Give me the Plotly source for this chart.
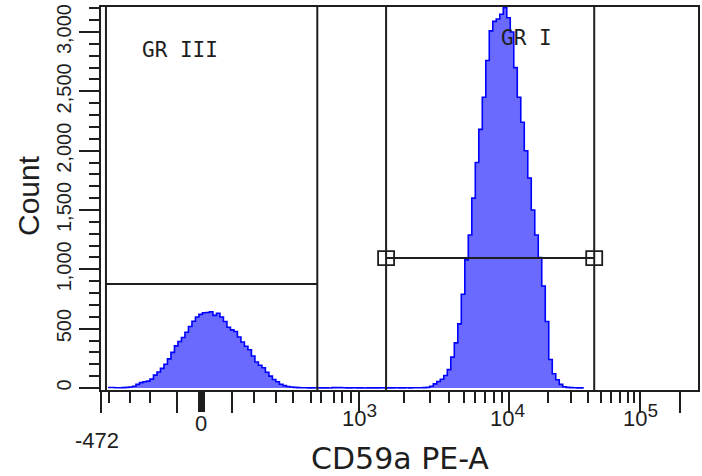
import math
import plotly.graph_objects as go

# ---- Histogram of CD59a PE-A, binned on a 0-1024 display-channel scale ----
BIN_WIDTH = 6          # display channels per histogram bin
FIRST_BIN = 2          # index of the first bin in `counts`
counts = [
    # bins 2-57 (CD59-negative population)
    4, 4, 2, 2, 3, 5, 8, 15, 30, 45,
    52, 58, 75, 108, 135, 165, 200, 245, 300, 355,
    392, 425, 470, 518, 562, 598, 620, 634, 636, 642,
    612, 630, 598, 560, 512, 490, 476, 430, 388, 352,
    322, 270, 219, 192, 170, 132, 100, 72, 52, 32,
    20, 12, 8, 5, 3, 2,
    # bins 58-87 (sparse events between the populations)
    2, 1, 1, 2, 1, 1, 1, 0, 3, 3,
    3, 2, 1, 1, 2, 1, 1, 0, 1, 1,
    1, 1, 2, 1, 1, 1, 2, 1, 1, 2,
    # bins 88-137 (CD59-positive population)
    1, 2, 2, 2, 3, 5, 14, 35, 55, 74,
    105, 155, 260, 380, 540, 790, 1080, 1290, 1600, 1900,
    2180, 2450, 2760, 3010, 3090, 3110, 3150, 3205, 3120, 3000,
    2700, 2450, 2240, 2000, 1770, 1500, 1290, 1100, 860, 560,
    240, 120, 70, 30, 10, 5, 3, 2, 1, 1,
]

# ---- Biexponential x axis: display channels of the ticks ----
X_RANGE = [0, 1024]
ZERO_CH = 173                         # channel of value 0
DECADE_CH = {3: 443, 4: 699, 5: 925}  # channels of 10^3, 10^4, 10^5
major_tick_ch = [0, 130, 224, 443, 699, 925, 993]
low_minor_ch = [14, 50, 84, 262, 301, 330, 361, 378, 400, 414, 429]
x_label_text = ["-472", "0", "10", "10", "10"]
x_label_exp = ["", "", "3", "4", "5"]
x_label_ch = [0, ZERO_CH, DECADE_CH[3], DECADE_CH[4], DECADE_CH[5]]

# ---- Count axis ----
Y_RANGE = [-17, 3211]
y_tick_vals = [0, 500, 1000, 1500, 2000, 2500, 3000]
y_tick_text = ["0", "500", "1,000", "1,500", "2,000", "2,500", "3,000"]

# ---- Gates (x in display channels, y in counts) ----
gr3 = {"name": "GR III", "x0": 8.5, "x1": 371, "level": 876, "label_x": 135, "label_y": 2848}
gr1 = {"name": "GR I", "x0": 489, "x1": 846, "level": 1095, "label_x": 730, "label_y": 2949}

# minor ticks inside the log decades
decade_minor_ch = []
for d in (3, 4):
    lo, hi = DECADE_CH[d], DECADE_CH[d + 1]
    for m in range(2, 10):
        decade_minor_ch.append(lo + (hi - lo) * math.log10(m))
minor_tick_ch = low_minor_ch + decade_minor_ch

# step outline of the histogram
xs = [(FIRST_BIN + i) * BIN_WIDTH for i in range(len(counts))]
xs.append((FIRST_BIN + len(counts)) * BIN_WIDTH)
ys = counts + [counts[-1]]

INK = "#1e1e1e"
SANS = "Liberation Sans, Arial"

fig = go.Figure()
fig.add_trace(go.Scatter(
    x=xs, y=ys, mode="lines", line=dict(shape="hv", color="#0000ff", width=1.6),
    fill="tozeroy", fillcolor="rgb(106,106,255)", hoverinfo="skip", showlegend=False,
))
# carrier for the heavy zero tick axis
fig.add_trace(go.Scatter(x=[ZERO_CH], y=[0], xaxis="x2", mode="markers",
                         marker=dict(opacity=0), hoverinfo="skip", showlegend=False))

shapes = []
for g in (gr3, gr1):
    for xv in (g["x0"], g["x1"]):
        shapes.append(dict(type="line", xref="x", yref="paper", x0=xv, x1=xv, y0=0, y1=1,
                           line=dict(color=INK, width=2)))
    shapes.append(dict(type="line", xref="x", yref="y", x0=g["x0"], x1=g["x1"],
                       y0=g["level"], y1=g["level"], line=dict(color=INK, width=2)))
# drag handles at the ends of the GR I bar
for xv in (gr1["x0"], gr1["x1"]):
    shapes.append(dict(type="rect", xref="x", yref="y", xsizemode="pixel", ysizemode="pixel",
                       xanchor=xv, yanchor=gr1["level"], x0=-8, x1=8, y0=-7, y1=7,
                       line=dict(color=INK, width=1.8), fillcolor="rgba(0,0,0,0)"))

annotations = []
for g in (gr3, gr1):
    annotations.append(dict(x=g["label_x"], y=g["label_y"], xref="x", yref="y", text=g["name"],
                            showarrow=False, font=dict(family="DejaVu Sans Mono", size=21, color=INK)))
label_offsets = [(-4, -50), (-1, -33), (0, -25), (-1, -25), (0, -25)]
for base, exp, ch, (dx, dy) in zip(x_label_text, x_label_exp, x_label_ch, label_offsets):
    txt = base
    if exp:
        txt = base + "<sup><span style='font-size:19px'>" + exp + "</span></sup>"
    annotations.append(dict(x=ch, y=0, xref="x", yref="paper", text=txt, showarrow=False,
                            xanchor="center", yanchor="middle", xshift=dx, yshift=dy,
                            font=dict(family=SANS, size=22, color=INK)))
annotations.append(dict(x=0.5, y=0, xref="paper", yref="paper", text="CD59a PE-A", showarrow=False,
                        xanchor="center", yanchor="middle", yshift=-68,
                        font=dict(family="DejaVu Sans", size=30, color=INK)))
annotations.append(dict(x=0, y=0.5065, xref="paper", yref="paper", text="Count", showarrow=False,
                        textangle=-90, xanchor="center", yanchor="middle", xshift=-73,
                        font=dict(family=SANS, size=30, color=INK)))

fig.update_layout(
    width=702, height=476, margin=dict(l=101, r=2, t=7, b=86),
    paper_bgcolor="white", plot_bgcolor="white",
    shapes=shapes, annotations=annotations,
    xaxis=dict(range=X_RANGE, showline=True, mirror=True, linecolor=INK, linewidth=2,
               showgrid=False, zeroline=False, ticks="outside", tickmode="array",
               tickvals=major_tick_ch, ticklen=21, tickwidth=2, tickcolor=INK,
               showticklabels=False,
               minor=dict(tickmode="array", tickvals=minor_tick_ch, ticks="outside",
                          ticklen=11, tickwidth=2, tickcolor=INK)),
    xaxis2=dict(range=X_RANGE, overlaying="x", anchor="y", side="bottom", showline=False,
                showgrid=False, zeroline=False, ticks="outside", tickmode="array",
                tickvals=[ZERO_CH], ticklen=21, tickwidth=7, tickcolor=INK,
                showticklabels=False),
    yaxis=dict(range=Y_RANGE, showline=True, mirror=True, linecolor=INK, linewidth=2,
               showgrid=False, zeroline=False, ticks="outside", tickmode="array",
               tickvals=y_tick_vals, ticktext=y_tick_text, ticklen=20, tickwidth=2,
               tickcolor=INK, tickangle=-90,
               tickfont=dict(family=SANS, size=20, color=INK),
               minor=dict(dtick=100, tick0=0, ticks="outside", ticklen=10, tickwidth=2,
                          tickcolor=INK)),
)

fig.write_html("out.html")
